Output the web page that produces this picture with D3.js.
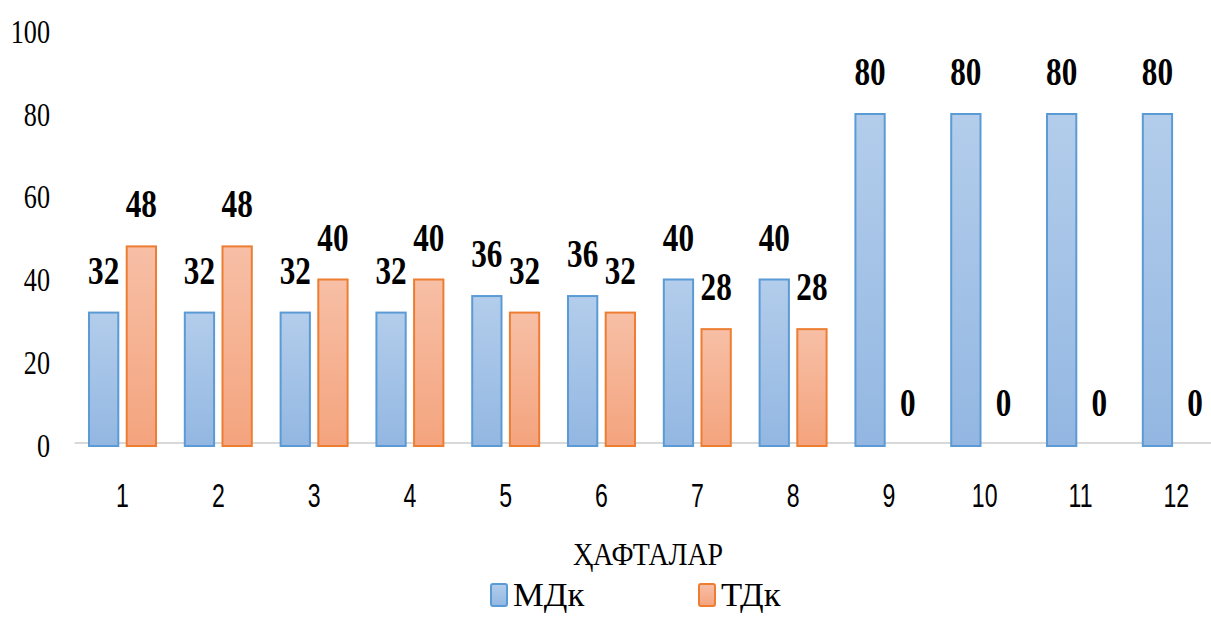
<!DOCTYPE html>
<html>
<head>
<meta charset="utf-8">
<script src="https://cdn.jsdelivr.net/npm/d3@7/dist/d3.min.js"></script>
<style>
  html, body { margin: 0; padding: 0; background: #fff; }
  svg { display: block; }
</style>
</head>
<body>
<svg id="chart" width="1211" height="617"></svg>
<script>
const categories = ["1","2","3","4","5","6","7","8","9","10","11","12"];
const seriesNames = ["МДк", "ТДк"];
const mdk = [32, 32, 32, 32, 36, 36, 40, 40, 80, 80, 80, 80];
const tdk = [48, 48, 40, 40, 32, 32, 28, 28, 0, 0, 0, 0];
const yTicks = [0, 20, 40, 60, 80, 100];
const axisTitle = "ҲАФТАЛАР";

const series = [mdk, tdk];
const colors = [
  { stroke: "#5B9BD5", top: "#B3CDEB", bottom: "#93B7E2" },
  { stroke: "#ED7D31", top: "#F7BFA6", bottom: "#F4A47E" }
];

const svg = d3.select("#chart");
const W = 1211;

const x0 = d3.scaleBand().domain(categories).range([74.6, 1224.2]).paddingInner(0.28).paddingOuter(0.14);
const x1 = d3.scaleBand().domain(seriesNames).range([0, x0.bandwidth()]).paddingInner(0.17).paddingOuter(0);
const y = d3.scaleLinear().domain([0, 100]).range([444, 30.25]);

const defs = svg.append("defs");
colors.forEach((c, i) => {
  const g = defs.append("linearGradient").attr("id", "grad" + i)
    .attr("x1", 0).attr("y1", 0).attr("x2", 0).attr("y2", 1);
  g.append("stop").attr("offset", "0%").attr("stop-color", c.top);
  g.append("stop").attr("offset", "100%").attr("stop-color", c.bottom);
});

// baseline
svg.append("line")
  .attr("x1", 74.6).attr("x2", W)
  .attr("y1", 443).attr("y2", 443)
  .attr("stroke", "#D9D9D9").attr("stroke-width", 2);

// y axis labels
const yAxis = d3.axisLeft(y).tickValues(yTicks).tickSize(0).tickPadding(0);
const yg = svg.append("g").attr("transform", "translate(50,0)").call(yAxis);
yg.select(".domain").remove();
yg.selectAll("text")
  .attr("font-family", "'Liberation Serif', 'Times New Roman', serif")
  .attr("font-size", 34)
  .attr("fill", "#000")
  .attr("dy", null)
  .attr("y", 12)
  .attr("transform", "scale(0.77,1)")
  .attr("x", 0);

// x axis labels
const xAxis = d3.axisBottom(x0).tickSize(0).tickPadding(0);
const xg = svg.append("g").attr("transform", "translate(0,507)").call(xAxis);
xg.select(".domain").remove();
xg.selectAll("text")
  .attr("font-family", "'Liberation Sans', Arial, sans-serif")
  .attr("font-size", 33)
  .attr("fill", "#000")
  .attr("dy", null)
  .attr("y", 0)
  .attr("transform", "scale(0.7,1)")
  .attr("x", 0);

// bars
const groups = svg.append("g").selectAll("g")
  .data(categories)
  .join("g")
  .attr("transform", d => `translate(${x0(d)},0)`);

seriesNames.forEach((s, si) => {
  groups.each(function(cat, ci) {
    const v = series[si][ci];
    const g = d3.select(this);
    if (v > 0) {
      g.append("rect")
        .attr("x", x1(s) + 1)
        .attr("y", y(v) + 1)
        .attr("width", x1.bandwidth() - 2)
        .attr("height", y(0) - y(v) + 1)
        .attr("fill", `url(#grad${si})`)
        .attr("stroke", colors[si].stroke)
        .attr("stroke-width", 2);
    }
    const cx = x1(s) + x1.bandwidth() / 2;
    g.append("text")
      .attr("transform", `translate(${cx},${y(v) - 28}) scale(0.8,1)`)
      .attr("text-anchor", "middle")
      .attr("font-family", "'Liberation Serif', 'Times New Roman', serif")
      .attr("font-weight", "bold")
      .attr("font-size", 39)
      .attr("fill", "#000")
      .text(v);
  });
});

// axis title
svg.append("text")
  .attr("transform", "translate(648,565) scale(0.9,1)")
  .attr("text-anchor", "middle")
  .attr("font-family", "'Liberation Serif', 'Times New Roman', serif")
  .attr("font-size", 31)
  .attr("fill", "#000")
  .text(axisTitle);

// legend
const legendX = [490, 698];
seriesNames.forEach((s, i) => {
  const lg = svg.append("g").attr("transform", `translate(${legendX[i]},0)`);
  lg.append("rect")
    .attr("x", 1).attr("y", 584)
    .attr("width", 16).attr("height", 22)
    .attr("rx", 2)
    .attr("fill", `url(#grad${i})`)
    .attr("stroke", colors[i].stroke)
    .attr("stroke-width", 2);
  lg.append("text")
    .attr("transform", "translate(23,606) scale(1.02,1)")
    .attr("font-family", "'Liberation Serif', 'Times New Roman', serif")
    .attr("font-size", 34)
    .attr("fill", "#000")
    .text(s);
});
</script>
</body>
</html>
